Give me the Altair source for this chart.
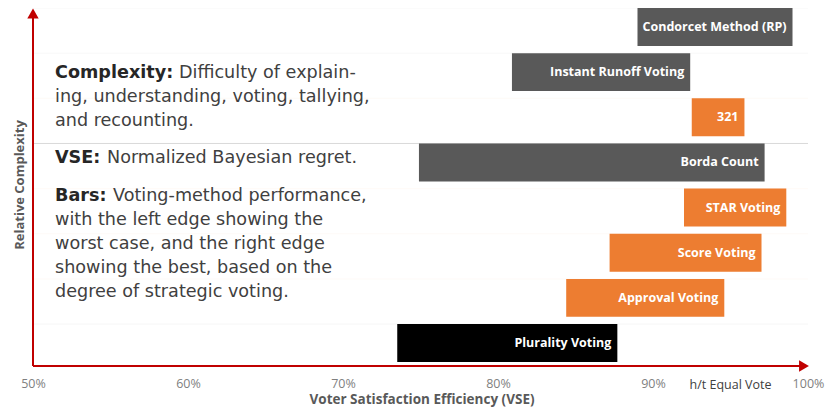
import altair as alt
import pandas as pd

# ---------------- data ----------------
methods = ["Condorcet Method (RP)", "Instant Runoff Voting", "321", "Borda Count",
           "STAR Voting", "Score Voting", "Approval Voting", "Plurality Voting"]
vse_worst = [89.0, 80.9, 92.5, 74.9, 92.0, 87.2, 84.4, 73.5]
vse_best = [99.0, 92.4, 95.9, 97.2, 98.6, 97.0, 94.6, 87.7]
families = ["Ranked", "Ranked", "Rated", "Ranked", "Rated", "Rated", "Rated", "Plurality"]
family_order = ["Ranked", "Rated", "Plurality"]
tick_values = [50, 60, 70, 80, 90, 100]
x_title = "Voter Satisfaction Efficiency (VSE)"
y_title = "Relative Complexity"
credit = "h/t Equal Vote"
credit_at = 95
note_heads = ["Complexity:", "VSE:", "Bars:"]
note_bodies = [
    ["Difficulty of explain-", "ing, understanding, voting, tallying,", "and recounting."],
    ["Normalized Bayesian regret."],
    ["Voting-method performance,", "with the left edge showing the",
     "worst case, and the right edge", "showing the best, based on the",
     "degree of strategic voting."],
]

df = pd.DataFrame({"method": methods, "worst": vse_worst, "best": vse_best, "family": families})
one = pd.DataFrame({"k": [0]})

# ---------------- style ----------------
W, H = 775, 354
RED = "#c00000"
FONT = "Open Sans"
NOTE_FONT = "DejaVu Sans"
NOTE_SIZE = 17.6

xscale = alt.Scale(domain=[50, 100], nice=False, zero=False)
yscale = alt.Scale(domain=methods, paddingInner=0.16, paddingOuter=0)
xaxis = alt.Axis(values=tick_values, labelExpr="datum.value + '%'", domain=False, ticks=False,
                 grid=False, labelFlush=False, labelFont=FONT, labelFontSize=12.5,
                 labelColor="#7f7f7f", labelPadding=15, title=None)
color = alt.Color("family:N", scale=alt.Scale(domain=family_order,
                                               range=["#595959", "#ed7d31", "#000000"]), legend=None)

base = alt.Chart(df)

grid = base.mark_rule(strokeWidth=1, opacity=0.04).encode(
    y=alt.Y("method:N", scale=yscale, axis=None, bandPosition=0),
    x=alt.value(0), x2=alt.value(W), color=color)

grid_borda = base.transform_filter(alt.datum.method == "Borda Count").mark_rule(
    strokeWidth=1, color="#d9d9d9").encode(
    y=alt.Y("method:N", scale=yscale, axis=None, bandPosition=0),
    x=alt.value(0), x2=alt.value(W))

bars = base.mark_bar().encode(
    x=alt.X("worst:Q", scale=xscale, axis=xaxis),
    x2="best:Q",
    y=alt.Y("method:N", scale=yscale, axis=None),
    color=color)

labels = base.mark_text(align="right", baseline="middle", dx=-6, font=FONT, fontWeight="bold",
                        fontSize=12.5, color="white").encode(
    x=alt.X("best:Q", scale=xscale, axis=xaxis),
    y=alt.Y("method:N", scale=yscale, axis=None),
    text="method:N")

credit_mark = alt.Chart(one).mark_text(baseline="middle", font=FONT, fontSize=12.5,
                                        color="#404040").encode(
    x=alt.datum(credit_at, scale=xscale), y=alt.value(H + 23), text=alt.value(credit))

yline = alt.Chart(one).mark_rule(color=RED, strokeWidth=2).encode(
    x=alt.value(0), y=alt.value(H + 4), y2=alt.value(8))
xline = alt.Chart(one).mark_rule(color=RED, strokeWidth=2).encode(
    x=alt.value(0), x2=alt.value(770), y=alt.value(H + 4))
yarrow = alt.Chart(one).mark_point(shape="triangle-up", filled=True, size=130, color=RED,
                                   opacity=1).encode(x=alt.value(0), y=alt.value(5.5))
xarrow = alt.Chart(one).mark_point(shape="triangle-right", filled=True, size=130, color=RED,
                                   opacity=1).encode(x=alt.value(771), y=alt.value(H + 4))

xtitle = alt.Chart(one).mark_text(font=FONT, fontWeight="bold", fontSize=13.5, color="#595959",
                                  baseline="middle").encode(
    x=alt.value(389), y=alt.value(H + 38), text=alt.value(x_title))
ytitle = alt.Chart(one).mark_text(font=FONT, fontWeight="bold", fontSize=13, color="#595959",
                                  angle=270, baseline="middle").encode(
    x=alt.value(-13), y=alt.value(177), text=alt.value(y_title))


def note(text, x, y, bold):
    return alt.Chart(one).mark_text(
        align="left", baseline="middle", font=NOTE_FONT, fontSize=NOTE_SIZE,
        fontWeight="bold" if bold else "normal",
        color="#262626" if bold else "#404040").encode(
        x=alt.value(x), y=alt.value(y), text=alt.value(text))


note_layers = []
starts = [65, 150, 188]
body_x = [146, 74, 80]
for head, body, y0, bx in zip(note_heads, note_bodies, starts, body_x):
    note_layers.append(note(head, 22, y0, True))
    for i, line in enumerate(body):
        note_layers.append(note(line, bx if i == 0 else 22, y0 + 24 * i, False))

chart = alt.layer(
    grid, grid_borda, bars, labels, credit_mark, yline, xline, yarrow, xarrow,
    xtitle, ytitle, *note_layers
).properties(
    width=W, height=H,
    padding={"left": 25, "top": 0, "right": 18, "bottom": 47},
    autosize=alt.AutoSizeParams(type="none"),
).configure_view(stroke=None)

chart.save("out.html", embed_options={"renderer": "svg", "actions": False})
